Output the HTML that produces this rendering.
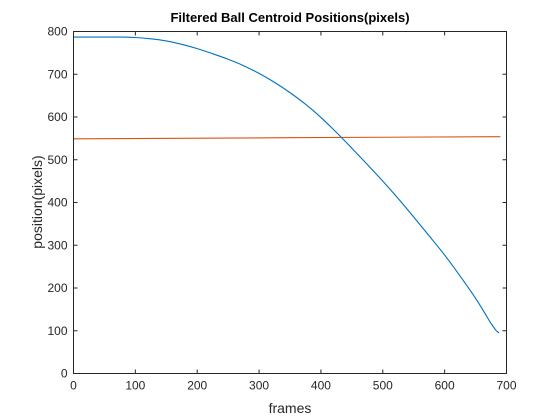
<!DOCTYPE html>
<html><head><meta charset="utf-8"><style>
body{margin:0;background:#fff;}
svg{display:block;font-family:"Liberation Sans",Arial,sans-serif;}
</style></head><body>
<svg width="560" height="420" id="c">
<rect width="560" height="420" fill="#fff"/>
<rect x="73.5" y="31.5" width="433" height="342" fill="#fff"/>
<text x="290" y="22" text-anchor="middle" font-weight="bold" font-size="13" fill="#000">Filtered Ball Centroid Positions(pixels)</text>
<text x="290" y="413" text-anchor="middle" font-size="14" fill="#262626">frames</text>
<text transform="translate(42,202) rotate(-90)" text-anchor="middle" font-size="14" fill="#262626">position(pixels)</text>
<g id="g"></g>
</svg>
<script>
const xTicks=[0,100,200,300,400,500,600,700];
const yTicks=[0,100,200,300,400,500,600,700,800];
const blueFrames=[0,50,80,100,125,150,175,200,225,250,275,300,325,350,375,400,425,450,475,500,525,550,575,600,625,650,665,675,683,688];
const blueValues=[787,787,787,786,783,778,770,760,748,735,720,702,681,657,630,599,564,527,489,450,409,366,322,277,228,176,141,117,101,95];
const orangeFrames=[0,690];
const orangeValues=[549,554];
const L=73.5,R=506.5,T=31.5,B=373.5;
const sx=v=>L+(v-0)/(700-0)*(R-L);
const sy=v=>B-(v-0)/(800-0)*(B-T);
const ns="http://www.w3.org/2000/svg";
const g=document.getElementById('g');
function mk(t,a){const e=document.createElementNS(ns,t);for(const k in a)e.setAttribute(k,a[k]);g.appendChild(e);return e;}
function path(xs,ys,color,name){
  const P=xs.map((x,i)=>[sx(x),sy(ys[i])]);
  let d='M'+P[0][0].toFixed(2)+','+P[0][1].toFixed(2);
  for(let i=0;i<P.length-1;i++){
    const p0=P[i-1]||P[i],p1=P[i],p2=P[i+1],p3=P[i+2]||P[i+1];
    const c1=[p1[0]+(p2[0]-p0[0])/6,p1[1]+(p2[1]-p0[1])/6];
    const c2=[p2[0]-(p3[0]-p1[0])/6,p2[1]-(p3[1]-p1[1])/6];
    d+='C'+c1.map(n=>n.toFixed(2)).join(',')+' '+c2.map(n=>n.toFixed(2)).join(',')+' '+p2.map(n=>n.toFixed(2)).join(',');
  }
  const p=mk('path',{d:d,fill:'none',stroke:color,'stroke-width':1.1});
  
  
}
path(orangeFrames,orangeValues,'#d95319','series-orange-line');
path(blueFrames,blueValues,'#0072bd','series-blue-line');
const box=mk('rect',{x:L,y:T,width:R-L,height:B-T,fill:'none',stroke:'#262626','stroke-width':1});


xTicks.forEach(v=>{
  const x=sx(v);
  const t1=mk('line',{x1:x,x2:x,y1:B,y2:B-4,stroke:'#262626'});
  
  
  const t2=mk('line',{x1:x,x2:x,y1:T,y2:T+4,stroke:'#262626'});
  
  
  const tx=mk('text',{x:x,y:B+16,'text-anchor':'middle','font-size':12,fill:'#262626'});
  tx.textContent=v;
  
  
});
yTicks.forEach(v=>{
  const y=sy(v);
  const t1=mk('line',{x1:L,x2:L+4,y1:y,y2:y,stroke:'#262626'});
  
  
  const t2=mk('line',{x1:R,x2:R-4,y1:y,y2:y,stroke:'#262626'});
  
  
  const tx=mk('text',{x:L-6,y:y+4,'text-anchor':'end','font-size':12,fill:'#262626'});
  tx.textContent=v;
  
  
});
</script>
</body></html>
